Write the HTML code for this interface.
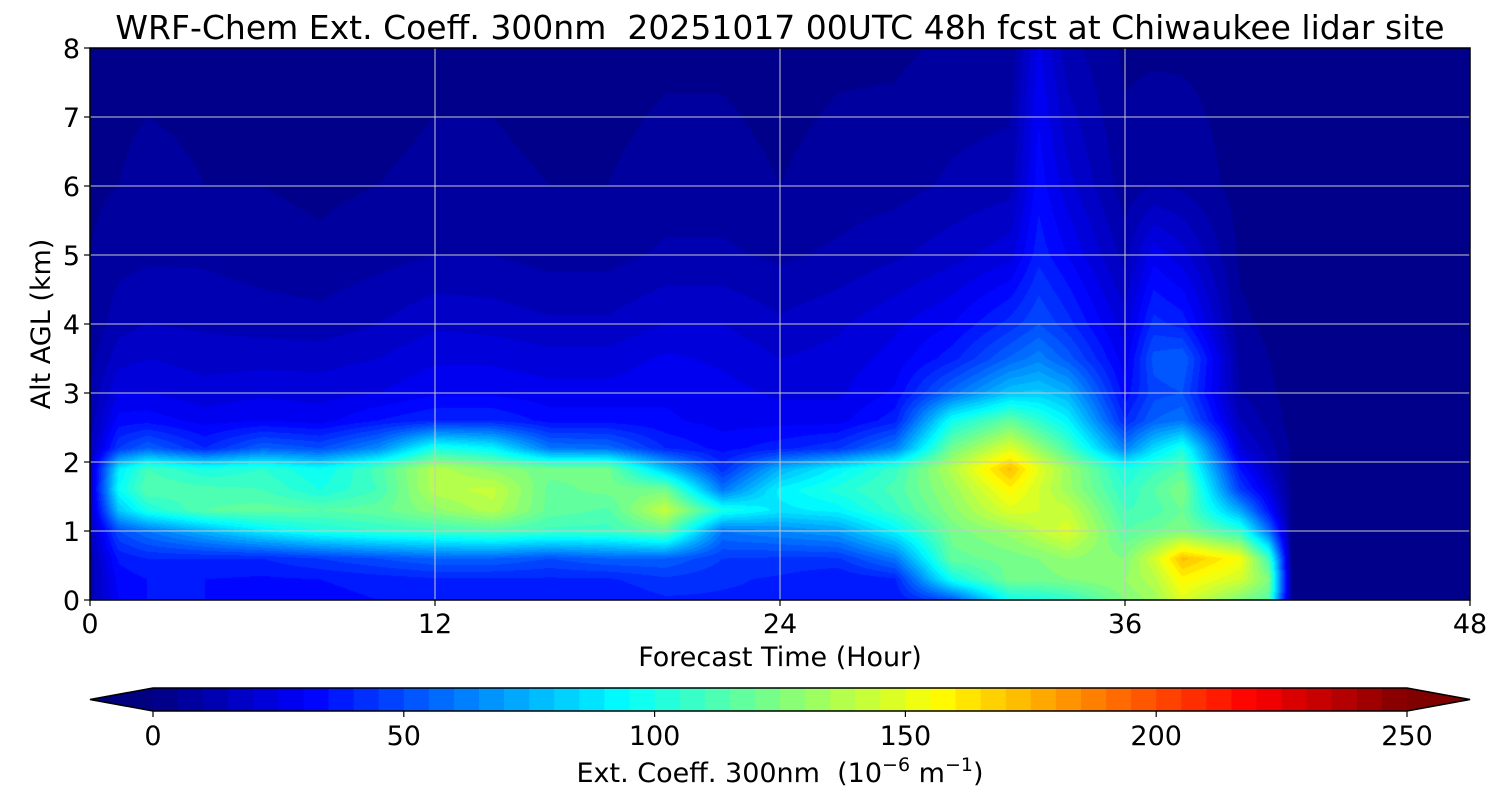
<!DOCTYPE html>
<html><head><meta charset="utf-8"><style>
html,body{margin:0;padding:0;background:#fff;width:1500px;height:800px;overflow:hidden}
#hm{position:absolute;left:90px;top:48px}
#ov{position:absolute;left:0;top:0}
text{font-family:"DejaVu Sans","Liberation Sans",sans-serif;fill:#000}
</style></head><body>
<canvas id="hm" width="1380" height="552"></canvas>
<svg id="ov" width="1500" height="800"></svg>
<script>
const times=[0,1,2,4,6,8,10,12,14,16,18,20,22,24,26,28,30,32,33,34,36,37,38,40,41,41.8,44,46,48];
const alts=[0,0.3,0.6,1.0,1.3,1.6,1.9,2.2,2.6,3.0,3.5,4.0,5.0,6.0,8.0];
const col0=[12,12,12,14,16,18,16,14,12,10,8,6,5,4,3];
const col1=[30,32,36,50,80,95,90,45,32,25,18,13,8,5,4];
const col2=[35,35,40,60,100,115,110,55,33,25,20,15,9,6,4];
const col4=[35,35,40,75,115,112,100,40,28,22,18,14,9,5,4];
const col6=[33,34,40,90,118,110,105,55,30,24,18,13,7,5,4];
const col8=[33,35,45,100,115,100,95,50,28,23,18,12,6,4,3];
const col10=[35,37,50,105,118,110,112,65,35,25,20,15,8,5,3];
const col12=[35,39,55,108,128,138,138,100,40,29,24,19,10,6,4];
const col14=[35,39,55,112,138,142,128,92,40,29,24,18,10,6,4];
const col16=[35,39,50,108,118,118,122,60,33,27,22,16,8,5,3];
const col18=[35,39,55,108,114,122,122,58,33,27,22,16,8,5,3];
const col20=[39,44,55,118,142,122,80,40,31,29,26,20,11,7,4];
const col22=[39,41,45,60,100,60,42,33,28,27,24,20,11,7,4];
const col24=[39,39,44,65,88,92,75,38,28,24,20,16,9,5,3];
const col26=[35,35,44,70,92,102,92,44,28,24,22,19,11,7,4];
const col28=[35,39,60,92,108,112,108,62,38,31,27,24,14,8,4];
const col30=[52,98,118,122,128,132,138,122,98,58,38,30,18,11,6];
const col32=[98,122,122,132,148,158,172,148,118,80,56,42,23,13,6];
const col33=[100,122,125,140,145,145,150,130,105,82,63,50,38,33,26];
const col34=[105,125,130,148,142,132,132,112,92,75,53,42,30,22,12];
const col36=[125,130,125,115,110,105,100,62,40,32,27,22,13,7,4];
const col37=[132,138,145,120,112,115,108,85,55,48,52,42,28,10,4];
const col38=[148,158,172,125,120,125,115,100,60,50,55,38,22,9,4];
const col40=[125,145,155,105,72,45,35,22,15,10,8,6,4,3,3];
const col41=[115,125,110,58,35,24,16,12,8,6,5,4,3,3,3];
const col41b=[4,4,4,4,4,4,4,4,3,3,3,3,3,3,3];
const col44=[3,3,3,3,3,3,3,3,3,3,3,3,3,3,3];
const col46=[3,3,3,3,3,3,3,3,3,3,3,3,3,3,3];
const col48=[3,3,3,3,3,3,3,3,3,3,3,3,3,3,3];
const grid=[col0,col1,col2,col4,col6,col8,col10,col12,col14,col16,col18,col20,col22,col24,col26,col28,col30,col32,col33,col34,col36,col37,col38,col40,col41,col41b,col44,col46,col48];
const xTicks=[0,12,24,36,48];
const yTicks=[0,1,2,3,4,5,6,7,8];
const cbTicks=[0,50,100,150,200,250];

const PX=90,PY=48,PW=1380,PH=552,TMAX=48,ZMAX=8,VMAX=250;
const xs=t=>PX+t/TMAX*PW, ys=z=>PY+PH-z/ZMAX*PH;
function jet(x){const c=v=>Math.max(0,Math.min(1,v));
 return [c(1.5-Math.abs(4*x-3)),c(1.5-Math.abs(4*x-2)),c(1.5-Math.abs(4*x-1))].map(v=>Math.round(v*255));}
function seg(arr,v){for(let i=0;i<arr.length-1;i++)if(v<=arr[i+1])return i;return arr.length-2;}
function val(t,z){const i=seg(times,t),j=seg(alts,z);
 const ft=(t-times[i])/(times[i+1]-times[i]),fz=(z-alts[j])/(alts[j+1]-alts[j]);
 const a=grid[i][j],b=grid[i+1][j],c=grid[i][j+1],d=grid[i+1][j+1];
 return (a*(1-ft)+b*ft)*(1-fz)+(c*(1-ft)+d*ft)*fz;}
const cv=document.getElementById('hm'),ctx=cv.getContext('2d'),img=ctx.createImageData(PW,PH);
for(let py=0;py<PH;py++){const z=(PH-py-0.5)/PH*ZMAX;
 for(let px=0;px<PW;px++){const t=(px+0.5)/PW*TMAX;let v=val(t,z);
  let lv=Math.min(49,Math.max(0,Math.floor(v/5)));const c=jet((lv+0.5)/50);
  const k=(py*PW+px)*4;img.data[k]=c[0];img.data[k+1]=c[1];img.data[k+2]=c[2];img.data[k+3]=255;}}
ctx.putImageData(img,0,0);

const svg=document.getElementById('ov'),NS='http://www.w3.org/2000/svg';
function el(tag,attrs,txt){const e=document.createElementNS(NS,tag);for(const k in attrs)e.setAttribute(k,attrs[k]);if(txt!==undefined)e.textContent=txt;svg.appendChild(e);return e;}
xTicks.forEach(t=>{if(t>0&&t<48){const g=el('line',{x1:xs(t),x2:xs(t),y1:PY,y2:PY+PH,stroke:'#c8c8c8','stroke-width':1});
 
 }
 const tk=el('line',{x1:xs(t),x2:xs(t),y1:PY+PH,y2:PY+PH+6,stroke:'#000','stroke-width':1.2});
 
 
 const lb=el('text',{x:xs(t),y:633,'font-size':27,'text-anchor':'middle'},String(t));
 
 });
yTicks.forEach(z=>{if(z>0&&z<8){const g=el('line',{x1:PX,x2:PX+PW,y1:ys(z),y2:ys(z),stroke:'#c8c8c8','stroke-width':1});
 
 }
 const tk=el('line',{x1:PX-6,x2:PX,y1:ys(z),y2:ys(z),stroke:'#000','stroke-width':1.2});
 
 
 const lb=el('text',{x:PX-10,y:ys(z)+10,'font-size':27,'text-anchor':'end'},String(z));
 
 });
const fr=el('rect',{x:PX,y:PY,width:PW,height:PH,fill:'none',stroke:'#000','stroke-width':1.5});


const ti=el('text',{x:780,y:39,'font-size':33,'text-anchor':'middle'},'WRF-Chem Ext. Coeff. 300nm\u00a0\u00a020251017 00UTC 48h fcst at Chiwaukee lidar site');


const xl=el('text',{x:780,y:666,'font-size':27,'text-anchor':'middle'},'Forecast Time (Hour)');


const yl=el('text',{x:0,y:0,'font-size':27,'text-anchor':'middle',transform:'translate(50,324) rotate(-90)'},'Alt AGL (km)');



// colorbar
const CX0=153,CX1=1407,CY=688,CH=23;
const cx=v=>CX0+v/VMAX*(CX1-CX0);
for(let i=0;i<50;i++){const c=jet((i+0.5)/50);
 const r=el('rect',{x:cx(i*5),y:CY,width:(CX1-CX0)/50+0.6,height:CH,fill:`rgb(${c})`});
 
 }
const lo=jet(0),hi=jet(1);
const tl=el('polygon',{points:`${CX0},${CY} ${CX0},${CY+CH} 90,${CY+CH/2}`,fill:`rgb(${lo})`});


const tr=el('polygon',{points:`${CX1},${CY} ${CX1},${CY+CH} 1470,${CY+CH/2}`,fill:`rgb(${hi})`});


const cbo=el('polygon',{points:`90,${CY+CH/2} ${CX0},${CY} ${CX1},${CY} 1470,${CY+CH/2} ${CX1},${CY+CH} ${CX0},${CY+CH}`,fill:'none',stroke:'#000','stroke-width':1.5});


cbTicks.forEach(v=>{const tk=el('line',{x1:cx(v),x2:cx(v),y1:CY+CH,y2:CY+CH+6,stroke:'#000','stroke-width':1.2});
 
 
 const lb=el('text',{x:cx(v),y:745,'font-size':27,'text-anchor':'middle'},String(v));
 
 });
const cl=el('text',{x:780,y:782,'font-size':27,'text-anchor':'middle'});


cl.innerHTML='Ext. Coeff. 300nm\u00a0\u00a0(10<tspan dy="-11" font-size="19">−6</tspan><tspan dy="11"> m</tspan><tspan dy="-11" font-size="19">−1</tspan><tspan dy="11">)</tspan>';
</script>
</body></html>
